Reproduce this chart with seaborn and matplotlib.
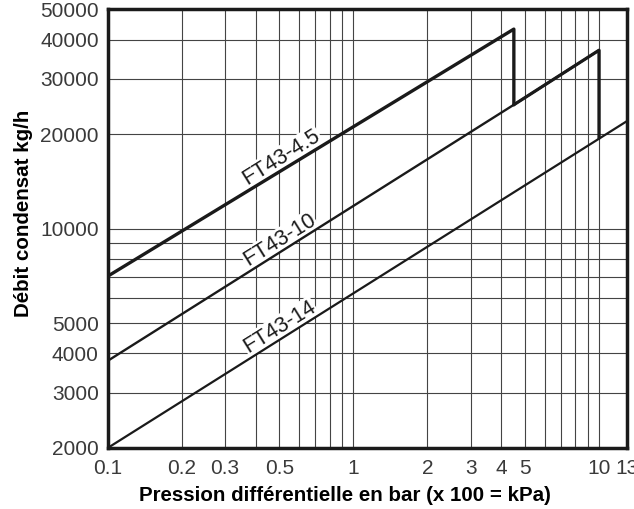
import matplotlib
matplotlib.use('Agg')
import matplotlib.pyplot as plt
import matplotlib.ticker as mticker
import numpy as np
import pandas as pd
import seaborn as sns

p_45 = [0.1, 4.5, 4.5]
q_45 = [7050, 43200, 24800]
p_10 = [0.1, 4.5, 10, 10]
q_10 = [3790, 24800, 37000, 19400]
p_14 = [0.1, 13]
q_14 = [2000, 22000]

x_ticks = [0.1, 0.2, 0.3, 0.5, 1, 2, 3, 4, 5, 10, 13]
x_ticklabels = ['0.1', '0.2', '0.3', '0.5', '1', '2', '3', '4', '5', '10', '13']
x_grid = [0.4, 0.6, 0.7, 0.8, 0.9, 6, 7, 8, 9]
y_ticks = [2000, 3000, 4000, 5000, 10000, 20000, 30000, 40000, 50000]
y_ticklabels = ['2000', '3000', '4000', '5000', '10000', '20000', '30000', '40000', '50000']
y_grid = [6000, 7000, 8000, 9000]

labels = ['FT43-4.5', 'FT43-10', 'FT43-14']
label_x = [0.51, 0.50, 0.50]
label_y = [16900, 9200, 4870]

sns.set_style('white')
plt.rcParams['font.family'] = ['Liberation Sans', 'DejaVu Sans']

fig = plt.figure(figsize=(6.34, 5.09), dpi=100)
ax = fig.add_axes([0.170, 0.120, 0.819, 0.862])

ink = '#1a1a1a'
sns.lineplot(x=p_45, y=q_45, estimator=None, sort=False, color=ink, lw=2.4, ax=ax, zorder=3)
sns.lineplot(x=p_10, y=q_10, estimator=None, sort=False, color=ink, lw=1.7, ax=ax, zorder=3)
sns.lineplot(x=p_10[1:], y=q_10[1:], estimator=None, sort=False, color=ink, lw=2.3, ax=ax, zorder=3)
sns.lineplot(x=p_14, y=q_14, estimator=None, sort=False, color=ink, lw=1.6, ax=ax, zorder=3)

ax.set_xscale('log')
ax.set_yscale('log')
ax.set_xlim(0.1, 13)
ax.set_ylim(2000, 50000)

ax.xaxis.set_major_locator(mticker.FixedLocator(x_ticks))
ax.xaxis.set_major_formatter(mticker.FixedFormatter(x_ticklabels))
ax.xaxis.set_minor_locator(mticker.FixedLocator(x_grid))
ax.yaxis.set_major_locator(mticker.FixedLocator(y_ticks))
ax.yaxis.set_major_formatter(mticker.FixedFormatter(y_ticklabels))
ax.yaxis.set_minor_locator(mticker.FixedLocator(y_grid))
ax.yaxis.set_minor_formatter(mticker.NullFormatter())
ax.xaxis.set_minor_formatter(mticker.NullFormatter())

ax.tick_params(which='major', direction='out', length=6, width=1, color='#444444',
               labelsize=15, labelcolor='#3a3a3a')
ax.tick_params(axis='x', which='major', pad=2)
ax.tick_params(axis='y', which='major', pad=0.5)
ax.tick_params(which='minor', length=0)
ax.set_axisbelow(True)
ax.grid(True, which='both', color='#444444', lw=0.8)

for s in ax.spines.values():
    s.set_visible(True)
    s.set_color(ink)
    s.set_linewidth(2.5)

for t, lx, ly in zip(labels, label_x, label_y):
    ax.text(lx, ly, t, rotation=32, fontsize=15.5, color=ink, ha='center', va='center',
            rotation_mode='anchor', zorder=2,
            bbox=dict(facecolor='white', edgecolor='none', pad=0.5))

ax.set_xlabel('Pression différentielle en bar (x 100 = kPa)', fontsize=14.8,
              fontweight='bold', color='black')
ax.set_ylabel('Débit condensat kg/h', fontsize=14.8, fontweight='bold', color='black')
ax.xaxis.set_label_coords(0.457, -0.086)
ax.yaxis.set_label_coords(-0.144, 0.535)

fig.savefig('out.png', dpi=100)
